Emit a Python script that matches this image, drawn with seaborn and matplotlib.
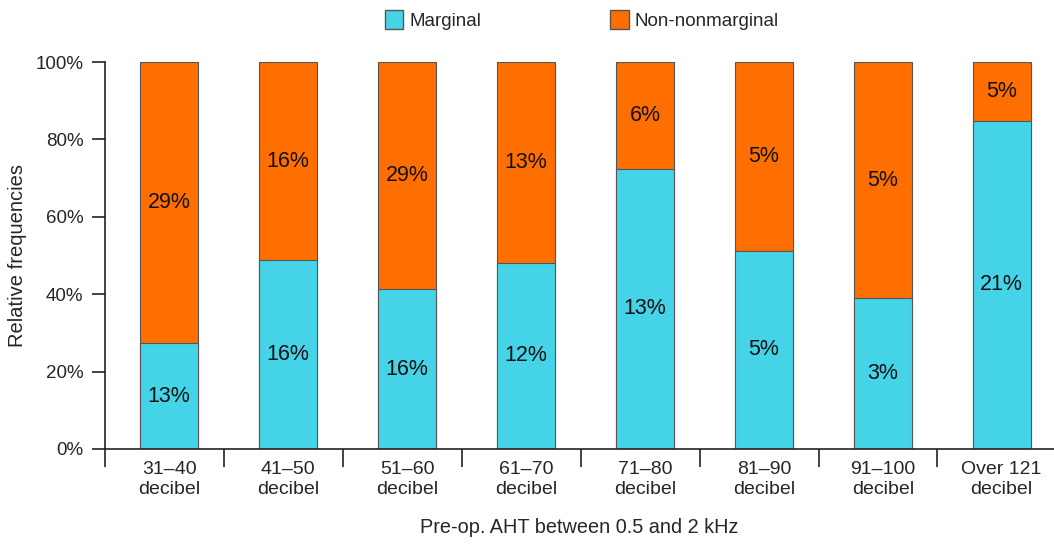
import matplotlib.pyplot as plt
import seaborn as sns
import pandas as pd
from matplotlib.patches import Patch
from matplotlib.ticker import FixedLocator

# 資料
categories = ['31–40\ndecibel', '41–50\ndecibel', '51–60\ndecibel', '61–70\ndecibel',
              '71–80\ndecibel', '81–90\ndecibel', '91–100\ndecibel', 'Over 121\ndecibel']
marginal_share = [27.3, 48.8, 41.3, 48.1, 72.4, 51.2, 39.0, 84.8]
marginal_labels = ['13%', '16%', '16%', '12%', '13%', '5%', '3%', '21%']
nonmarginal_labels = ['29%', '16%', '29%', '13%', '6%', '5%', '5%', '5%']
total_share = [100] * len(categories)

df = pd.DataFrame({'category': categories, 'marginal': marginal_share, 'total': total_share})

sns.set_theme(style="ticks")
plt.rcParams['font.family'] = ['Liberation Sans', 'DejaVu Sans']

cyan = '#45d3e8'
orange = '#ff6e00'
edge = '#555555'

fig = plt.figure(figsize=(10.54, 5.46), dpi=100)
ax = fig.add_axes([0.0996, 0.1777, 0.9004, 0.7087])

# 堆疊長條：先畫總量 (橘)，再疊上 Marginal (青)
sns.barplot(data=df, x='category', y='total', color=orange, width=0.49,
            edgecolor=edge, linewidth=0.8, saturation=1, ax=ax)
sns.barplot(data=df, x='category', y='marginal', color=cyan, width=0.49,
            edgecolor=edge, linewidth=0.8, saturation=1, ax=ax)

# 數值標籤
for i, m in enumerate(marginal_share):
    ax.text(i, m / 2, marginal_labels[i], ha='center', va='center', fontsize=15.5, color='#111111')
    ax.text(i, (m + 100) / 2, nonmarginal_labels[i], ha='center', va='center', fontsize=15.5, color='#111111')

# 座標軸
ax.set_xlim(-0.54, 7.44)
ax.set_ylim(0, 100)
ax.set_yticks([0, 20, 40, 60, 80, 100])
ax.set_yticklabels(['0%', '20%', '40%', '60%', '80%', '100%'], fontsize=13.5)
ax.tick_params(axis='y', length=9.5, width=1.2, color='#222222', pad=6)
ax.tick_params(axis='x', which='major', length=0, labelsize=14, pad=9)
ax.xaxis.set_minor_locator(FixedLocator([i - 0.54 for i in range(len(categories))]))
ax.tick_params(axis='x', which='minor', length=13, width=1.2, color='#222222', direction='out')

ax.set_xlabel('Pre-op. AHT between 0.5 and 2 kHz', fontsize=14.3, labelpad=14)
ax.set_ylabel('Relative frequencies', fontsize=14.5, labelpad=6)

for s in ['top', 'right']:
    ax.spines[s].set_visible(False)
ax.spines['left'].set_linewidth(1.2)
ax.spines['bottom'].set_linewidth(1.2)
ax.spines['left'].set_color('#222222')
ax.spines['bottom'].set_color('#222222')

# 圖例
handles = [Patch(facecolor=cyan, edgecolor=edge, label='Marginal'),
           Patch(facecolor=orange, edgecolor=edge, label='Non-nonmarginal')]
fig.legend(handles=handles, loc='center', bbox_to_anchor=(0.552, 0.963), ncol=2,
           frameon=False, fontsize=13.5, handlelength=1.0, handleheight=1.2,
           handletextpad=0.3, columnspacing=6.9, borderpad=0)

fig.savefig('out.png', dpi=100)
